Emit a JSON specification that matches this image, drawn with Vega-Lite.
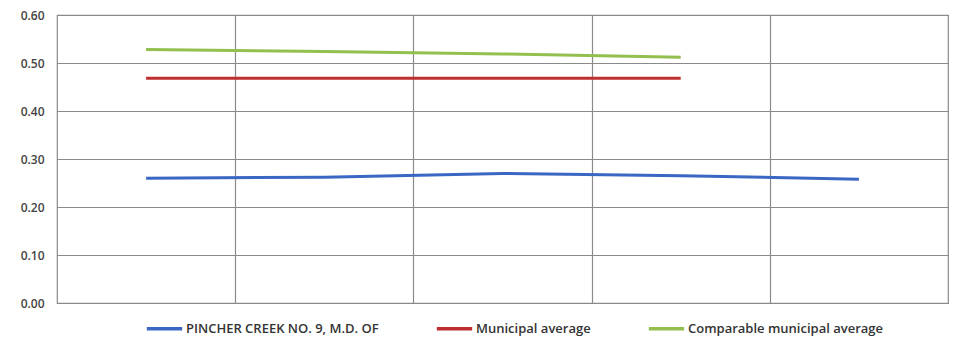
{
  "$schema": "https://vega.github.io/schema/vega-lite/v6.json",
  "width": 891,
  "height": 288,
  "autosize": {"type": "none"},
  "padding": {"left": 57, "top": 15, "right": 6, "bottom": 36},
  "background": "white",
  "config": {
    "view": {"stroke": "#8a8a8a", "strokeWidth": 1.2},
    "font": "Open Sans"
  },
  "data": {
    "values": [
      {"series": "PINCHER CREEK NO. 9, M.D. OF", "period": 1, "value": 0.26},
      {"series": "PINCHER CREEK NO. 9, M.D. OF", "period": 2, "value": 0.262},
      {"series": "PINCHER CREEK NO. 9, M.D. OF", "period": 3, "value": 0.27},
      {"series": "PINCHER CREEK NO. 9, M.D. OF", "period": 4, "value": 0.265},
      {"series": "PINCHER CREEK NO. 9, M.D. OF", "period": 5, "value": 0.258},
      {"series": "Municipal average", "period": 1, "value": 0.468},
      {"series": "Municipal average", "period": 2, "value": 0.468},
      {"series": "Municipal average", "period": 3, "value": 0.468},
      {"series": "Municipal average", "period": 4, "value": 0.468},
      {"series": "Comparable municipal average", "period": 1, "value": 0.528},
      {"series": "Comparable municipal average", "period": 2, "value": 0.524},
      {"series": "Comparable municipal average", "period": 3, "value": 0.519},
      {"series": "Comparable municipal average", "period": 4, "value": 0.512}
    ]
  },
  "mark": {"type": "line", "strokeWidth": 3},
  "encoding": {
    "x": {
      "field": "period",
      "type": "quantitative",
      "scale": {"domain": [0.5, 5.5], "nice": false, "zero": false},
      "axis": {
        "values": [1.5, 2.5, 3.5, 4.5],
        "labels": false,
        "ticks": false,
        "domain": false,
        "title": null,
        "grid": true,
        "gridColor": "#8a8a8a",
        "gridWidth": 1.2,
        "gridOpacity": 1
      }
    },
    "y": {
      "field": "value",
      "type": "quantitative",
      "scale": {"domain": [0, 0.6], "nice": false},
      "axis": {
        "values": [0, 0.1, 0.2, 0.3, 0.4, 0.5, 0.6],
        "format": ".2f",
        "title": null,
        "domain": false,
        "ticks": false,
        "labelPadding": 13,
        "labelFontSize": 12,
        "labelFontWeight": 600,
        "labelColor": "#444444",
        "grid": true,
        "gridColor": "#8a8a8a",
        "gridWidth": 1.2,
        "gridOpacity": 1
      }
    },
    "color": {
      "field": "series",
      "type": "nominal",
      "sort": null,
      "scale": {
        "domain": ["PINCHER CREEK NO. 9, M.D. OF", "Municipal average", "Comparable municipal average"],
        "range": ["#3b67c4", "#be2f2f", "#93bf4f"]
      },
      "legend": {
        "title": null,
        "orient": "none",
        "legendX": 88,
        "legendY": 294,
        "direction": "horizontal",
        "symbolType": "stroke",
        "symbolSize": 1250,
        "symbolStrokeWidth": 3.5,
        "labelFontSize": 13,
        "labelFontWeight": 600,
        "labelColor": "#333333",
        "labelLimit": 400,
        "columnPadding": 50,
        "labelOffset": 2
      }
    }
  }
}
